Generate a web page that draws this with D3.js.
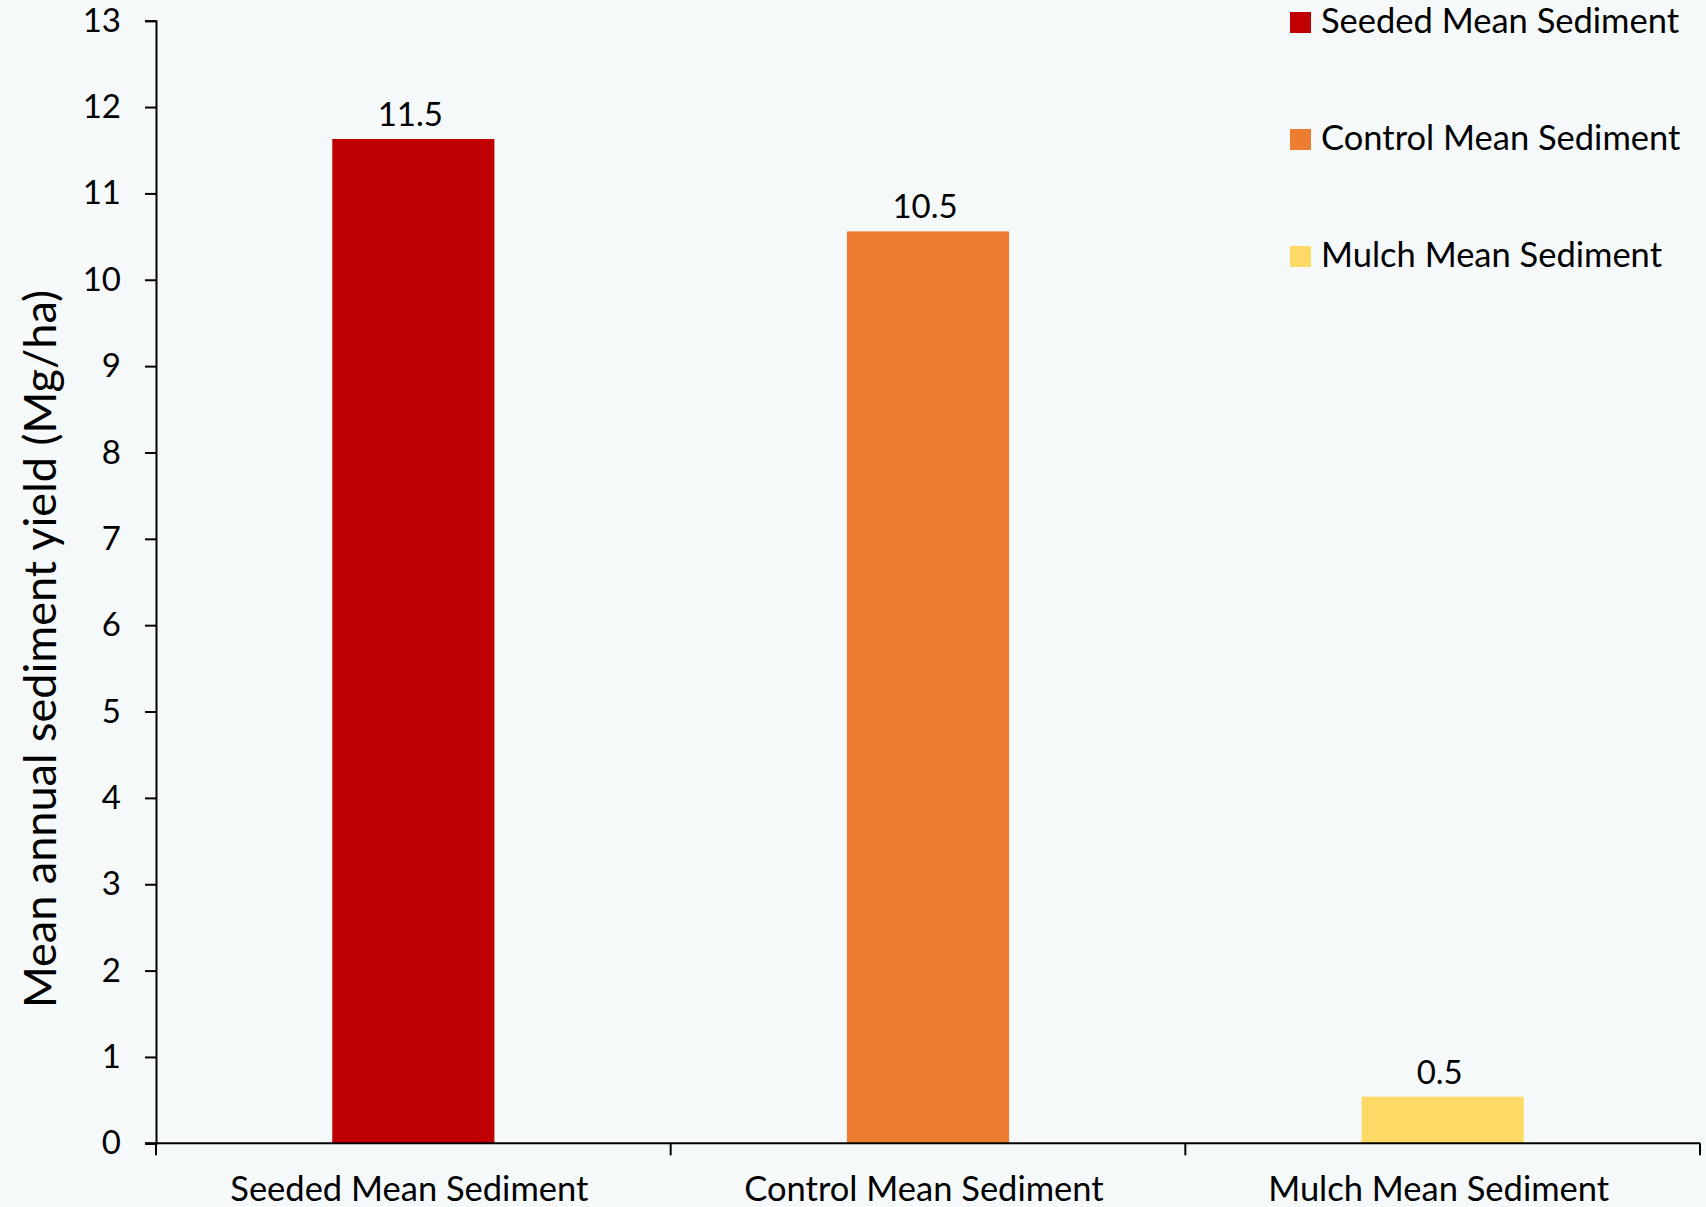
<!DOCTYPE html>
<html>
<head>
<meta charset="utf-8">
<script src="https://cdn.jsdelivr.net/npm/d3@7"></script>
<style>
  body { margin: 0; background: #f5f9fa; }
  svg { display: block; font-family: Lato, "Open Sans", sans-serif; }
</style>
</head>
<body>
<svg id="chart" width="1706" height="1207"></svg>
<script>
// values
var categories = ["Seeded Mean Sediment", "Control Mean Sediment", "Mulch Mean Sediment"]
var values = [11.63, 10.56, 0.54]
var valueLabels = ["11.5", "10.5", "0.5"]
var colors = ["#c00000", "#ed7d31", "#ffd966"]
var yTicks = [0,1,2,3,4,5,6,7,8,9,10,11,12,13]

var svg = d3.select("#chart")
var plotLeft = 156, plotRight = 1700, plotTop = 20.7, plotBottom = 1143.3

svg.append("rect").attr("width", 1706).attr("height", 1207).attr("fill", "#f5f9fa")

var x = d3.scaleBand().domain(categories).range([plotLeft, plotRight]).paddingInner(0.685).paddingOuter(0.3425)
var y = d3.scaleLinear().domain([0, 13]).range([plotBottom, plotTop])

// bars
svg.selectAll("rect.bar")
  .data(values)
  .enter()
  .append("rect")
  .attr("class", "bar")
  .attr("x", function(d, i){ return x(categories[i]) })
  .attr("y", function(d){ return y(d) })
  .attr("width", x.bandwidth())
  .attr("height", function(d){ return y(0) - y(d) })
  .attr("fill", function(d, i){ return colors[i] })

// value labels
svg.selectAll("text.val")
  .data(values)
  .enter()
  .append("text")
  .attr("class", "val")
  .attr("x", function(d, i){ return x(categories[i]) + x.bandwidth()/2 - 3 })
  .attr("y", function(d){ return y(d) - 13 })
  .attr("text-anchor", "middle")
  .attr("font-size", 33)
  .attr("fill", "#000")
  .text(function(d, i){ return valueLabels[i] })

// y axis
var yAxis = svg.append("g")
  .attr("transform", "translate(" + plotLeft + ",0)")
  .call(d3.axisLeft(y).tickValues(yTicks).tickSize(11).tickPadding(24).tickFormat(d3.format("d")))
yAxis.select(".domain").attr("stroke-width", 2)
yAxis.selectAll(".tick line").attr("stroke-width", 2)
yAxis.selectAll("text").attr("font-size", 33).attr("font-family", "Lato, sans-serif").attr("fill", "#000")

// x axis: ticks at category boundaries
var xAxisG = svg.append("g").attr("transform", "translate(0," + plotBottom + ")")
xAxisG.append("line").attr("x1", plotLeft - 11).attr("x2", plotRight).attr("stroke", "#000").attr("stroke-width", 2)
var edges = [plotLeft].concat(categories.map(function(c, i){ return plotLeft + (plotRight - plotLeft) * (i + 1) / categories.length }))
xAxisG.selectAll("line.tk")
  .data(edges)
  .enter()
  .append("line")
  .attr("class", "tk")
  .attr("x1", function(d){ return d }).attr("x2", function(d){ return d })
  .attr("y1", 0).attr("y2", 12)
  .attr("stroke", "#000").attr("stroke-width", 2)
xAxisG.selectAll("text")
  .data(categories)
  .enter()
  .append("text")
  .attr("x", function(d){ return x(d) + x.bandwidth()/2 - 4 })
  .attr("y", 58)
  .attr("text-anchor", "middle")
  .attr("font-size", 34.5)
  .attr("fill", "#000")
  .text(function(d){ return d })

// y title
svg.append("text")
  .attr("transform", "translate(56,649) rotate(-90)")
  .attr("text-anchor", "middle")
  .attr("font-size", 45)
  .attr("fill", "#000")
  .text("Mean annual sediment yield (Mg/ha)")

// legend
var legend = svg.append("g").attr("transform", "translate(1290,12)")
var rows = legend.selectAll("g")
  .data(categories)
  .enter()
  .append("g")
  .attr("transform", function(d, i){ return "translate(0," + i*117 + ")" })
rows.append("rect").attr("width", 21).attr("height", 21).attr("fill", function(d, i){ return colors[i] })
rows.append("text")
  .attr("x", 31).attr("y", 21)
  .attr("font-size", 34.5)
  .attr("fill", "#000")
  .text(function(d){ return d })
</script>
</body>
</html>
